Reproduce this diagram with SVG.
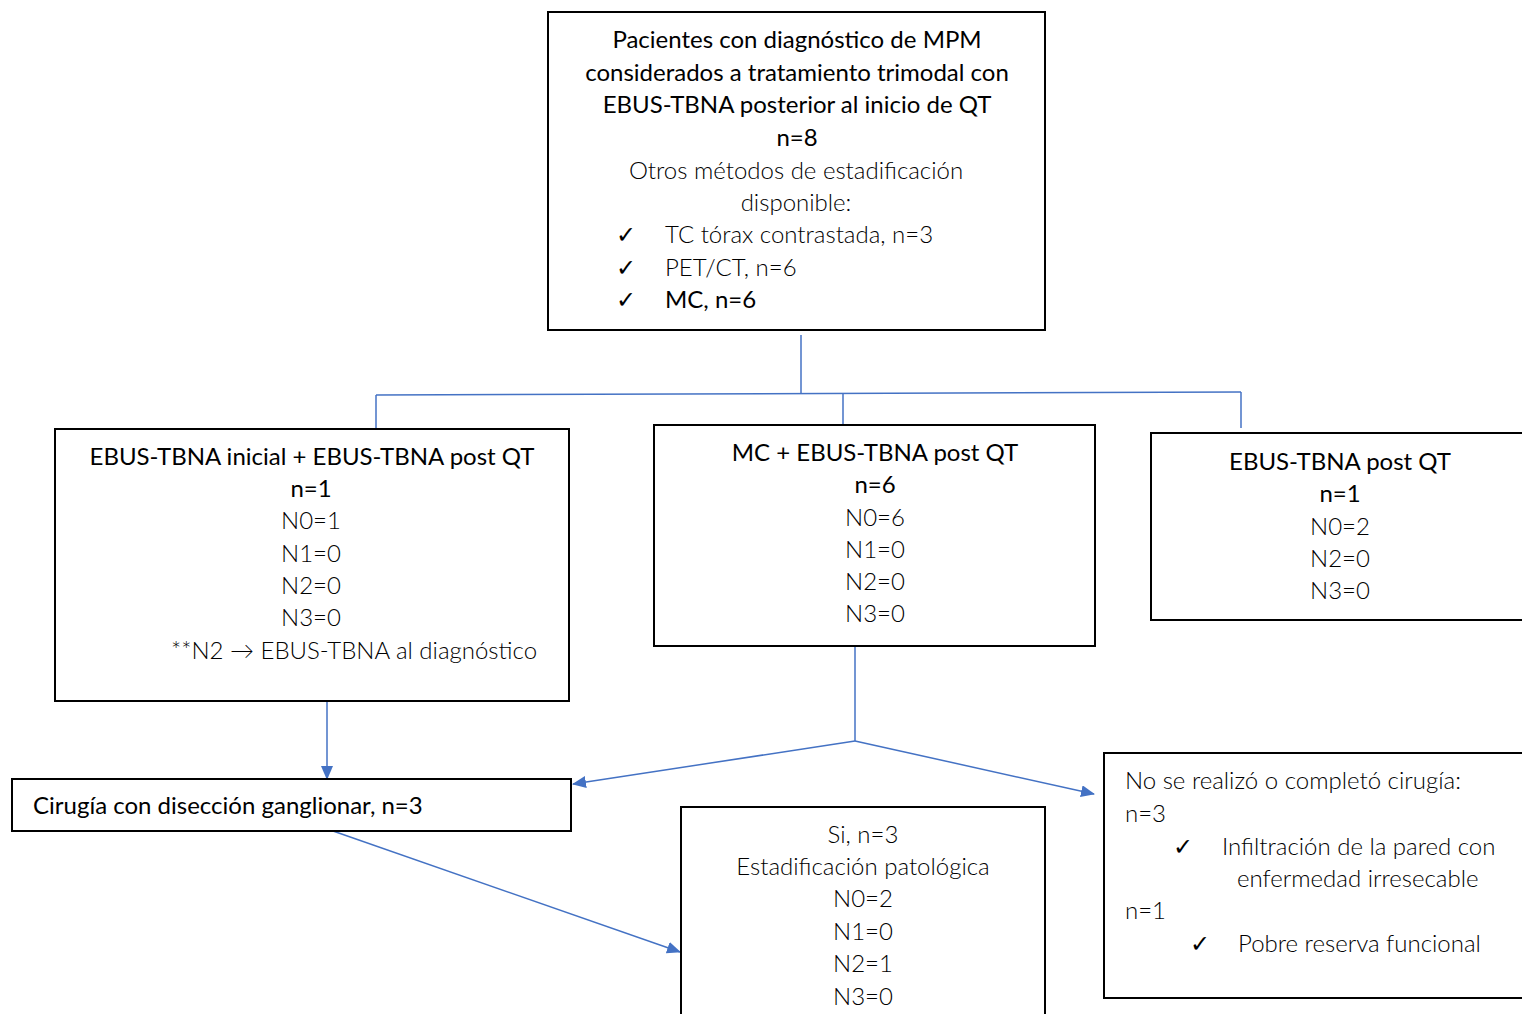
<svg xmlns="http://www.w3.org/2000/svg" width="1522" height="1014" viewBox="0 0 1522 1014">
<style>
.box{fill:#fff;stroke:#000;stroke-width:2}
.t{font-family:Lato,"Open Sans","Liberation Sans",sans-serif;font-size:24px;fill:#000}
.b{font-weight:400}
.l{font-weight:300}
.c{text-anchor:middle}
.ln{stroke:#4472C4;stroke-width:1.5;fill:none}
</style>
<defs>
<marker id="ah" viewBox="0 0 14 12" refX="13" refY="6" markerWidth="14" markerHeight="12" markerUnits="userSpaceOnUse" orient="auto">
<path d="M0,0 L14,6 L0,12 Z" fill="#4472C4"/>
</marker>
</defs>
<rect width="1522" height="1014" fill="#fff"/>
<g id="connectors">
<line class="ln" x1="801" y1="335" x2="801" y2="393"/>
<line class="ln" x1="376" y1="395" x2="1241" y2="392"/>
<line class="ln" x1="376" y1="395" x2="376" y2="428"/>
<line class="ln" x1="843" y1="394" x2="843" y2="424"/>
<line class="ln" x1="1241" y1="392" x2="1241" y2="428"/>
<line class="ln" x1="327" y1="702" x2="327" y2="779" marker-end="url(#ah)"/>
<line class="ln" x1="855" y1="646" x2="855" y2="741"/>
<line class="ln" x1="855" y1="741" x2="573" y2="784" marker-end="url(#ah)"/>
<line class="ln" x1="855" y1="741" x2="1094" y2="794" marker-end="url(#ah)"/>
<line class="ln" x1="333" y1="831" x2="680" y2="952" marker-end="url(#ah)"/>
</g>
<g id="n-top">
<rect class="box" x="548" y="12" width="497" height="318"/>
<text class="t b c" x="797" y="48">Pacientes con diagnóstico de MPM</text>
<text class="t b c" x="797" y="81">considerados a tratamiento trimodal con</text>
<text class="t b c" x="797" y="113">EBUS-TBNA posterior al inicio de QT</text>
<text class="t b c" x="797" y="146">n=8</text>
<text class="t l c" x="796" y="179">Otros métodos de estadificación</text>
<text class="t l c" x="796" y="211">disponible:</text>
<text class="t l" x="616" y="243">✓</text><text class="t l" x="665" y="243">TC tórax contrastada, n=3</text>
<text class="t l" x="616" y="276">✓</text><text class="t l" x="665" y="276">PET/CT, n=6</text>
<text class="t l" x="616" y="308">✓</text><text class="t b" x="665" y="308">MC, n=6</text>
</g>
<g id="n-inicial">
<rect class="box" x="55" y="429" width="514" height="272"/>
<text class="t b c" x="312" y="465">EBUS-TBNA inicial + EBUS-TBNA post QT</text>
<text class="t b c" x="311" y="497">n=1</text>
<text class="t l c" x="311" y="529">N0=1</text>
<text class="t l c" x="311" y="562">N1=0</text>
<text class="t l c" x="311" y="594">N2=0</text>
<text class="t l c" x="311" y="626">N3=0</text>
<text class="t l" x="171" y="659">**N2 → EBUS-TBNA al diagnóstico</text>
</g>
<g id="n-mc">
<rect class="box" x="654" y="425" width="441" height="221"/>
<text class="t b c" x="875" y="461">MC + EBUS-TBNA post QT</text>
<text class="t b c" x="875" y="493">n=6</text>
<text class="t l c" x="875" y="526">N0=6</text>
<text class="t l c" x="875" y="558">N1=0</text>
<text class="t l c" x="875" y="590">N2=0</text>
<text class="t l c" x="875" y="622">N3=0</text>
</g>
<g id="n-post">
<rect class="box" x="1151" y="433" width="380" height="187"/>
<text class="t b c" x="1340" y="470">EBUS-TBNA post QT</text>
<text class="t b c" x="1340" y="502">n=1</text>
<text class="t l c" x="1340" y="535">N0=2</text>
<text class="t l c" x="1340" y="567">N2=0</text>
<text class="t l c" x="1340" y="599">N3=0</text>
</g>
<g id="n-cirugia">
<rect class="box" x="12" y="779" width="559" height="52"/>
<text class="t b" x="33" y="814">Cirugía con disección ganglionar, n=3</text>
</g>
<g id="n-si">
<rect class="box" x="681" y="807" width="364" height="220"/>
<text class="t l c" x="863" y="843">Si, n=3</text>
<text class="t l c" x="863" y="875">Estadificación patológica</text>
<text class="t l c" x="863" y="907">N0=2</text>
<text class="t l c" x="863" y="940">N1=0</text>
<text class="t l c" x="863" y="972">N2=1</text>
<text class="t l c" x="863" y="1005">N3=0</text>
</g>
<g id="n-no">
<rect class="box" x="1104" y="753" width="430" height="245"/>
<text class="t l" x="1125" y="789">No se realizó o completó cirugía:</text>
<text class="t l" x="1125" y="822">n=3</text>
<text class="t l" x="1173" y="855">✓</text><text class="t l" x="1222" y="855">Infiltración de la pared con</text>
<text class="t l" x="1237" y="887">enfermedad irresecable</text>
<text class="t l" x="1125" y="919">n=1</text>
<text class="t l" x="1190" y="952">✓</text><text class="t l" x="1238" y="952">Pobre reserva funcional</text>
</g>
</svg>
